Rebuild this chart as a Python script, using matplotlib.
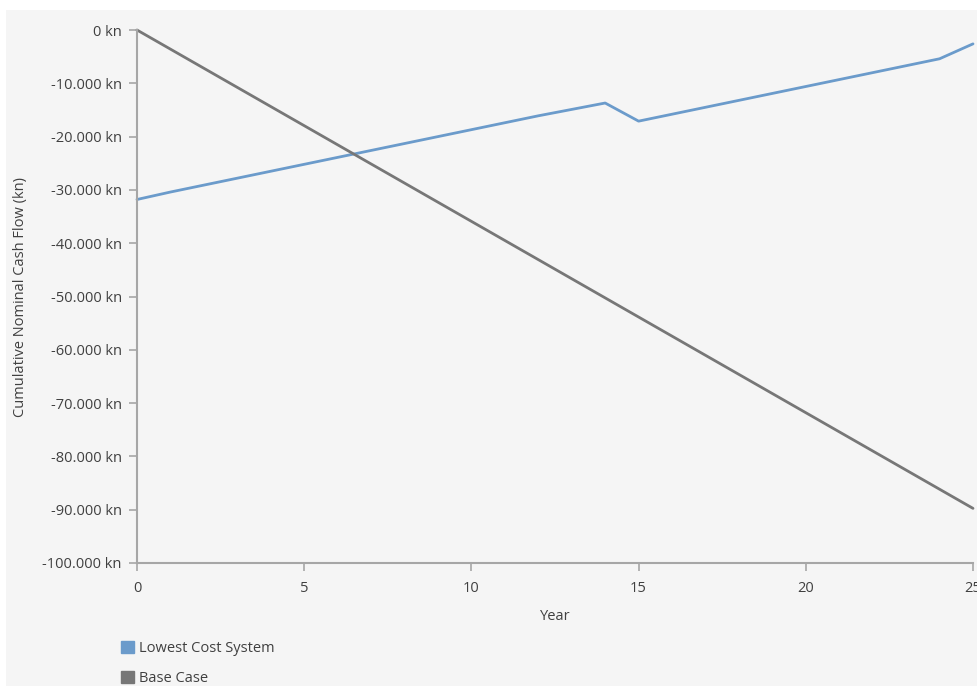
import matplotlib.pyplot as plt
import matplotlib.patches as mpatches
from matplotlib.ticker import FuncFormatter

plt.rcParams['font.family'] = ['Open Sans', 'DejaVu Sans']

# ---------------------------------------------------------------------------
# Data
# ---------------------------------------------------------------------------
years = list(range(0, 26))
lowest_cost = [-31800, -30400, -29100, -27800, -26500, -25200, -23900, -22600,
               -21300, -20000, -18700, -17400, -16100, -14900, -13700, -17100,
               -15800, -14500, -13200, -11900, -10600, -9300, -8000, -6700,
               -5400, -2600]
base_case = [0, -3590, -7180, -10770, -14360, -17950, -21540, -25130, -28720,
             -32310, -35900, -39490, -43080, -46670, -50260, -53850, -57440,
             -61030, -64620, -68210, -71800, -75390, -78980, -82570, -86160,
             -89750]
x_ticks = [0, 5, 10, 15, 20, 25]
y_ticks = [0, -10000, -20000, -30000, -40000, -50000, -60000, -70000, -80000,
           -90000, -100000]

BLUE = "#6b9bcb"
GRAY = "#777777"
TEXT = "#404040"
AXIS = "#a6a6a6"
PANEL = "#f5f5f5"

W, H = 977, 686
fig = plt.figure(figsize=(W / 100, H / 100), dpi=100, facecolor="white")
fig.patches.append(mpatches.Rectangle((6 / W, 0), 1 - 6 / W, (H - 10) / H,
                                      transform=fig.transFigure,
                                      facecolor=PANEL, edgecolor="none", zorder=-1))

left, right, top, bottom = 137, 973, 30, 563
ax = fig.add_axes([left / W, 1 - bottom / H, (right - left) / W, (bottom - top) / H])
ax.set_facecolor("none")

ax.plot(years, lowest_cost, color=BLUE, linewidth=2.0, solid_capstyle="round", clip_on=False)
ax.plot(years, base_case, color=GRAY, linewidth=2.0, solid_capstyle="round", clip_on=False)

ax.set_xlim(0, 25)
ax.set_ylim(-100000, 0)
ax.set_xticks(x_ticks)
ax.set_yticks(y_ticks)


def _kn(v, pos):
    if v == 0:
        return "0 kn"
    return f"{v:,.0f}".replace(",", ".") + " kn"


ax.yaxis.set_major_formatter(FuncFormatter(_kn))

for side in ("top", "right"):
    ax.spines[side].set_visible(False)
for side in ("left", "bottom"):
    ax.spines[side].set_color(AXIS)
    ax.spines[side].set_linewidth(1.5)

ax.tick_params(axis="both", colors=AXIS, length=6, width=1.2, labelsize=10.5,
               labelcolor=TEXT)
ax.tick_params(axis="y", pad=5)
ax.tick_params(axis="x", pad=7)

ax.set_xlabel("Year", fontsize=10.5, color=TEXT, labelpad=9)
ax.set_ylabel("Cumulative Nominal Cash Flow (kn)", fontsize=10.5, color=TEXT, labelpad=10)

handles = [mpatches.Patch(color=BLUE, label="Lowest Cost System"),
           mpatches.Patch(color=GRAY, label="Base Case")]
fig.legend(handles=handles, loc="upper left", bbox_to_anchor=(108 / W, 1 - 628 / H),
           frameon=False, fontsize=10.5, labelcolor=TEXT, handlelength=0.9,
           handleheight=0.9, handletextpad=0.3, labelspacing=1.0)

fig.savefig("out.png", dpi=100, facecolor=fig.get_facecolor())
